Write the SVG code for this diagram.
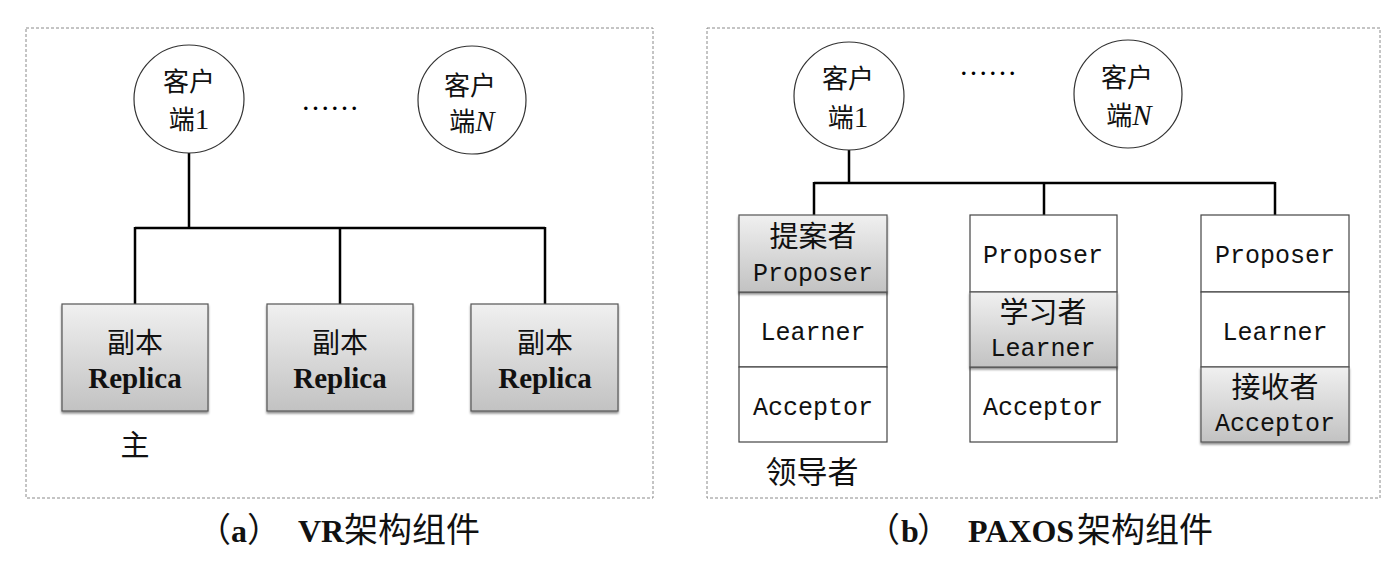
<svg xmlns="http://www.w3.org/2000/svg" width="1400" height="565" viewBox="0 0 1400 565">
<style>
.frame{fill:none;stroke:#8a8a8a;stroke-width:1;stroke-dasharray:3 2}
.client{fill:#fff;stroke:#333;stroke-width:1.2}
.conn{fill:none;stroke:#000;stroke-width:2.5}
.cell{fill:#fff;stroke:#444;stroke-width:1.2}
.shade{fill:url(#g);stroke:#555;stroke-width:1.2;filter:url(#sh)}
.cjk{font-family:"Noto Sans CJK SC","Liberation Serif",serif;fill:#111}
.mono{font-family:"Liberation Mono",monospace;font-size:25px;fill:#111;text-anchor:middle}
.bold{font-family:"Liberation Serif",serif;font-weight:bold;fill:#111}
.ital{font-family:"Liberation Serif",serif;font-style:italic}
.serif{font-family:"Liberation Serif",serif}
.mid{text-anchor:middle}
</style>
<defs>
<linearGradient id="g" x1="0" y1="0" x2="0" y2="1">
<stop offset="0" stop-color="#f0f0f0"/>
<stop offset="1" stop-color="#c2c2c2"/>
</linearGradient>
<filter id="sh" x="-5%" y="-5%" width="110%" height="115%">
<feDropShadow dx="0" dy="2" stdDeviation="1.2" flood-color="#000" flood-opacity="0.45"/>
</filter>
</defs>
<rect class="frame" x="26" y="28" width="627" height="470"/>
<rect class="frame" x="707" y="28" width="673" height="470"/>
<g id="connectors">
<path class="conn" d="M189 153 V228 M135 228 H545 M135 227 V304 M340 228 V304 M545 227 V304"/>
<path class="conn" d="M849 150 V183 M814 183 H1275 M814 182 V215 M1044 183 V215 M1275 182 V215"/>
</g>
<g id="vr-client1">
<ellipse class="client" cx="189" cy="99" rx="55" ry="54"/>
<text class="cjk mid" x="189" y="91" font-size="26">客户</text>
<text class="cjk mid" x="189" y="129" font-size="26">端<tspan class="serif" font-size="29">1</tspan></text>
</g>
<text id="vr-dots" class="serif mid" x="330" y="110" font-size="29">……</text>
<g id="vr-clientN">
<ellipse class="client" cx="472" cy="100" rx="54" ry="54"/>
<text class="cjk mid" x="470" y="95" font-size="26">客户</text>
<text class="cjk mid" x="472" y="131" font-size="26">端<tspan class="ital" font-size="29">N</tspan></text>
</g>
<g id="vr-replica1">
<rect class="shade" x="62" y="304" width="146" height="107"/>
<text class="cjk mid" x="135" y="353" font-size="28">副本</text>
<text class="bold mid" x="135" y="388" font-size="29">Replica</text>
</g>
<g id="vr-replica2">
<rect class="shade" x="267" y="304" width="146" height="107"/>
<text class="cjk mid" x="340" y="353" font-size="28">副本</text>
<text class="bold mid" x="340" y="388" font-size="29">Replica</text>
</g>
<g id="vr-replica3">
<rect class="shade" x="471" y="304" width="147" height="107"/>
<text class="cjk mid" x="545" y="353" font-size="28">副本</text>
<text class="bold mid" x="545" y="388" font-size="29">Replica</text>
</g>
<text id="vr-primary" class="cjk mid" x="135" y="456" font-size="29">主</text>
<g id="px-client1">
<ellipse class="client" cx="849" cy="96" rx="55" ry="54"/>
<text class="cjk mid" x="848" y="88" font-size="26">客户</text>
<text class="cjk mid" x="848" y="127" font-size="26">端<tspan class="serif" font-size="29">1</tspan></text>
</g>
<text id="px-dots" class="serif mid" x="988" y="75" font-size="29">……</text>
<g id="px-clientN">
<ellipse class="client" cx="1128" cy="94" rx="54" ry="54"/>
<text class="cjk mid" x="1127" y="87" font-size="26">客户</text>
<text class="cjk mid" x="1129" y="125" font-size="26">端<tspan class="ital" font-size="29">N</tspan></text>
</g>
<g id="px-node1">
<rect class="cell" x="739" y="292" width="148" height="75"/>
<rect class="cell" x="739" y="367" width="148" height="75"/>
<rect class="shade" x="739" y="215" width="148" height="77"/>
<text class="cjk mid" x="813" y="247" font-size="29">提案者</text>
<text class="mono" x="813" y="281">Proposer</text>
<text class="mono" x="813" y="340">Learner</text>
<text class="mono" x="813" y="415">Acceptor</text>
</g>
<text id="px-leader" class="cjk mid" x="812" y="483" font-size="31">领导者</text>
<g id="px-node2">
<rect class="cell" x="970" y="215" width="147" height="77"/>
<rect class="cell" x="970" y="367" width="147" height="75"/>
<rect class="shade" x="970" y="292" width="147" height="75"/>
<text class="mono" x="1043" y="263">Proposer</text>
<text class="cjk mid" x="1043" y="323" font-size="29">学习者</text>
<text class="mono" x="1043" y="356">Learner</text>
<text class="mono" x="1043" y="415">Acceptor</text>
</g>
<g id="px-node3">
<rect class="cell" x="1201" y="215" width="148" height="77"/>
<rect class="cell" x="1201" y="292" width="148" height="75"/>
<rect class="shade" x="1201" y="367" width="148" height="75"/>
<text class="mono" x="1275" y="263">Proposer</text>
<text class="mono" x="1275" y="340">Learner</text>
<text class="cjk mid" x="1275" y="398" font-size="29">接收者</text>
<text class="mono" x="1275" y="431">Acceptor</text>
</g>
<text id="caption-a" y="542"><tspan class="cjk" x="197" font-size="34">（</tspan><tspan class="bold" x="231" font-size="32">a</tspan><tspan class="cjk" x="247" font-size="34">）</tspan><tspan class="bold" x="298" font-size="32">VR</tspan><tspan class="cjk" x="344" font-size="34">架构组件</tspan></text>
<text id="caption-b" y="542"><tspan class="cjk" x="866" font-size="34">（</tspan><tspan class="bold" x="901" font-size="32">b</tspan><tspan class="cjk" x="917" font-size="34">）</tspan><tspan class="bold" x="968" font-size="32">PAXOS</tspan><tspan class="cjk" x="1077" font-size="34">架构组件</tspan></text>
</svg>
